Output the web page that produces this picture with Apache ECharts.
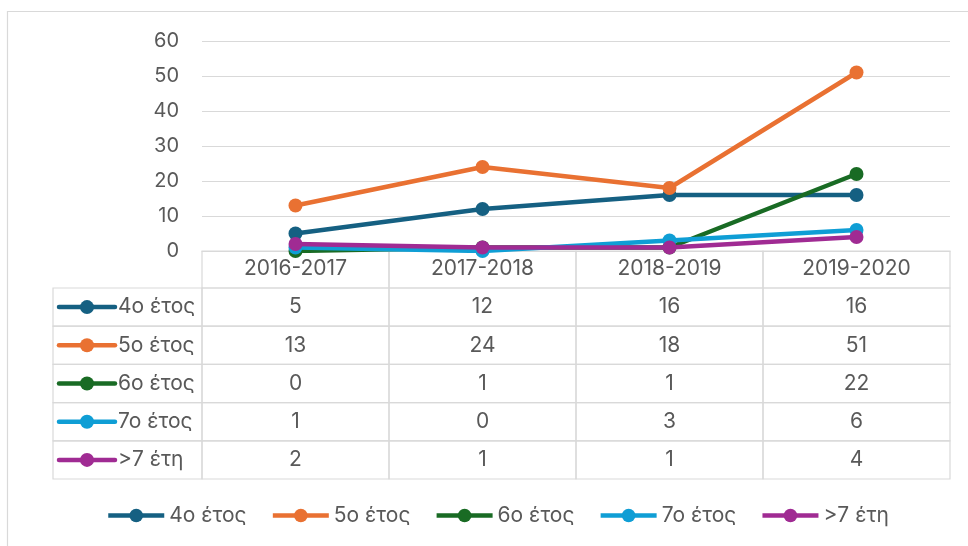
<!DOCTYPE html>
<html>
<head>
<meta charset="utf-8">
<script src="https://cdn.jsdelivr.net/npm/echarts@6/dist/echarts.min.js"></script>
<style>
  html, body { margin: 0; padding: 0; background: #fff; }
  #chart { width: 968px; height: 546px; }
</style>
</head>
<body>
<div id="chart"></div>
<script>
// categories and series
var categories = ['2016-2017', '2017-2018', '2018-2019', '2019-2020'];
var seriesNames = ['4ο έτος', '5ο έτος', '6ο έτος', '7ο έτος', '>7 έτη'];
var year4 = [5, 12, 16, 16];
var year5 = [13, 24, 18, 51];
var year6 = [0, 1, 1, 22];
var year7 = [1, 0, 3, 6];
var over7 = [2, 1, 1, 4];
var yTicks = [0, 10, 20, 30, 40, 50, 60];

var seriesValues = [year4, year5, year6, year7, over7];
var colors = ['#156082', '#E97132', '#196B24', '#0F9ED5', '#A02B93'];

var FONT = 'Inter, "Noto Sans", sans-serif';
var TEXT = '#595959';
var BORDER = '#d9d9d9';
var HEAD_H = 37;     // header row of the data table
var ROW_H = 38.2;    // data rows
var KEY_W = 149;     // left column with series keys

// one table cell per series/category
var tableData = [];
seriesValues.forEach(function (vals, r) {
    vals.forEach(function (v, c) {
        tableData.push([c, r, v]);
    });
});

function renderCell(params, api) {
    var c = api.value(0), r = api.value(1);
    var base = api.coord([c, 0]);
    var bw = api.size([1, 0])[0];
    var top = base[1] + HEAD_H + r * ROW_H;
    var x0 = base[0] - bw / 2;
    var children = [
        { type: 'rect', shape: { x: x0, y: top, width: bw, height: ROW_H },
          style: { fill: 'none', stroke: BORDER, lineWidth: 1.2 } },
        { type: 'text', style: { x: base[0], y: top + ROW_H / 2, text: String(api.value(2)),
          align: 'center', verticalAlign: 'middle', font: '21px ' + FONT, fill: TEXT } }
    ];
    if (r === 0) {
        // header cell borders (label comes from the x axis)
        children.push({ type: 'rect', shape: { x: x0, y: base[1], width: bw, height: HEAD_H },
            style: { fill: 'none', stroke: BORDER, lineWidth: 1.2 } });
    }
    if (c === 0) {
        // key cell on the left
        var kx = x0 - KEY_W;
        var cy = top + ROW_H / 2;
        children.push(
            { type: 'rect', shape: { x: kx, y: top, width: KEY_W, height: ROW_H },
              style: { fill: 'none', stroke: BORDER, lineWidth: 1.2 } },
            { type: 'line', shape: { x1: kx + 6, y1: cy, x2: kx + 62, y2: cy },
              style: { stroke: colors[r], lineWidth: 4.5, lineCap: 'round' } },
            { type: 'circle', shape: { cx: kx + 34, cy: cy, r: 7 },
              style: { fill: colors[r] } },
            { type: 'text', style: { x: kx + 65, y: cy, text: seriesNames[r],
              align: 'left', verticalAlign: 'middle', font: '21px ' + FONT, fill: TEXT } }
        );
    }
    return { type: 'group', children: children };
}

var series = seriesNames.map(function (name, i) {
    return {
        name: name,
        type: 'line',
        data: seriesValues[i],
        symbol: 'circle',
        symbolSize: 14,
        lineStyle: { width: 4.5, color: colors[i] },
        itemStyle: { color: colors[i] },
        z: 3 + i
    };
});
series.push({
    type: 'custom',
    data: tableData,
    renderItem: renderCell,
    clip: false,
    silent: true,
    z: 1
});

var chart = echarts.init(document.getElementById('chart'));
chart.setOption({
    backgroundColor: '#fff',
    animation: false,
    textStyle: { fontFamily: FONT },
    graphic: [{
        type: 'rect',
        shape: { x: 7.5, y: 11.5, width: 1200, height: 800 },
        style: { fill: 'none', stroke: BORDER, lineWidth: 1.2 },
        silent: true
    }],
    grid: { left: 202, right: 18, top: 41, bottom: 295 },
    legend: {
        data: seriesNames,
        left: 106,
        top: 505,
        itemWidth: 56,
        itemHeight: 17,
        itemGap: 24,
        padding: 0,
        lineStyle: { width: 4.5 },
        textStyle: { fontSize: 21, color: TEXT, fontFamily: FONT }
    },
    xAxis: {
        type: 'category',
        data: categories,
        boundaryGap: true,
        axisLine: { lineStyle: { color: BORDER, width: 1.2 } },
        axisTick: { show: false },
        axisLabel: { fontSize: 21, color: TEXT, margin: 7, fontFamily: FONT }
    },
    yAxis: {
        type: 'value',
        min: yTicks[0],
        max: yTicks[yTicks.length - 1],
        interval: yTicks[1] - yTicks[0],
        axisLine: { show: false },
        axisTick: { show: false },
        axisLabel: { fontSize: 20, color: TEXT, margin: 23, fontFamily: FONT },
        splitLine: { lineStyle: { color: BORDER, width: 1.2 } }
    },
    series: series
});
</script>
</body>
</html>
